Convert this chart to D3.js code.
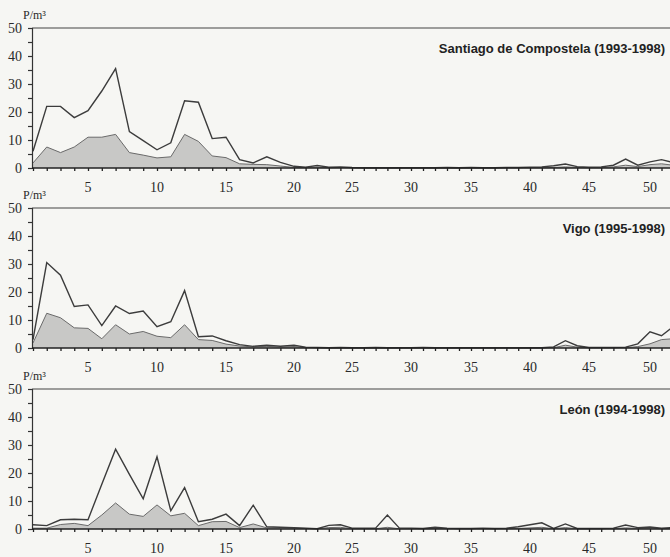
<!DOCTYPE html>
<html>
<head>
<meta charset="utf-8">
<script src="https://cdn.jsdelivr.net/npm/d3@7"></script>
<style>
    body { margin: 0; background: #f6f6f3; }
    .tick-label { font-family: "Liberation Serif", "DejaVu Serif", serif; font-size: 14px; fill: #2a2a2a; }
    .title { font-family: "Liberation Sans", Arial, sans-serif; font-size: 13px; font-weight: bold; fill: #222; }
</style>
</head>
<body>
<div class="container"></div>
<script>
// weeks 1..52
const weeks = d3.range(1, 53);

const santiagoMax = [6, 22, 22, 18, 20.5, 27.5, 35.5, 13, 9.8, 6.5, 9, 24, 23.5, 10.5, 11, 3, 1.8, 4, 2, 0.6,
    0.3, 0.9, 0.3, 0.4, 0.2, 0.1, 0.1, 0.1, 0.1, 0.1, 0.1, 0.1, 0.2, 0.1, 0.2, 0.1, 0.1, 0.2, 0.2, 0.3,
    0.4, 0.8, 1.4, 0.5, 0.3, 0.4, 1, 3.2, 1, 2.2, 3, 2];
const santiagoMean = [1.8, 7.5, 5.5, 7.5, 11, 11, 12, 5.5, 4.6, 3.6, 4, 12, 9.5, 4.3, 3.7, 1.5, 1.3, 1.2, 0.7, 0.2,
    0.2, 0.3, 0.1, 0.2, 0.1, 0, 0, 0, 0, 0, 0, 0, 0.1, 0, 0.1, 0, 0, 0.1, 0.1, 0.1,
    0.1, 0.2, 0.4, 0.2, 0.1, 0.1, 0.4, 1, 0.5, 1.2, 1.5, 1];

const vigoMax = [3, 30.5, 26, 14.8, 15.4, 8, 15, 12.3, 13.2, 7.6, 9.4, 20.5, 4, 4.3, 2.6, 1.2, 0.6, 1, 0.6, 1,
    0.3, 0.2, 0.1, 0.2, 0.1, 0.1, 0.2, 0.1, 0.1, 0.1, 0.2, 0.1, 0.1, 0.1, 0.1, 0.1, 0.1, 0.1, 0.1, 0.1,
    0.1, 0.4, 2.6, 0.8, 0.2, 0.2, 0.2, 0.3, 1.5, 5.8, 4.4, 7.6];
const vigoMean = [1.8, 12.4, 10.8, 7.2, 7, 3.3, 8.3, 5, 5.9, 4.2, 3.7, 8.3, 3, 2.7, 1.4, 0.7, 0.4, 0.6, 0.3, 0.5,
    0.1, 0.1, 0, 0.1, 0, 0, 0.1, 0, 0, 0, 0.1, 0, 0, 0, 0, 0, 0, 0, 0, 0,
    0, 0.1, 1, 0.3, 0.1, 0.1, 0.1, 0.1, 0.5, 1.5, 3, 3.3];

const leonMax = [1.5, 1.2, 3.3, 3.5, 3.3, 16, 28.5, 19.5, 10.8, 25.8, 6.5, 14.8, 2.6, 3.5, 5.3, 1.2, 8.5, 0.8, 0.6, 0.5,
    0.3, 0.1, 1.3, 1.5, 0.3, 0.3, 0.3, 5, 0.4, 0.3, 0.2, 0.6, 0.3, 0.2, 0.2, 0.3, 0.2, 0.3, 0.8, 1.5,
    2.2, 0.2, 1.8, 0.2, 0.2, 0.2, 0.3, 1.4, 0.5, 0.7, 0.3, 0.5];
const leonMean = [0.3, 0.3, 1.6, 2, 1.2, 5, 9.3, 5.3, 4.5, 8.6, 4.7, 5.6, 1.2, 2.6, 2.7, 0.5, 1.8, 0.4, 0.4, 0.3,
    0.2, 0.1, 0.5, 0.6, 0.1, 0.1, 0.1, 0.6, 0.1, 0.1, 0.1, 0.2, 0.1, 0.1, 0.1, 0.1, 0.1, 0.1, 0.2, 0.4,
    0.6, 0.1, 0.5, 0.1, 0.1, 0.1, 0.1, 0.4, 0.2, 0.3, 0.1, 0.2];

const panels = [
    { title: 'Santiago de Compostela (1993-1998)', max: santiagoMax, mean: santiagoMean, top: 28 },
    { title: 'Vigo (1995-1998)', max: vigoMax, mean: vigoMean, top: 208 },
    { title: 'León (1994-1998)', max: leonMax, mean: leonMean, top: 389 }
];

const yTicks = [0, 5, 10, 15, 20, 25, 30, 35, 40, 45, 50];
const yLabels = [0, 10, 20, 30, 40, 50];
const xLabels = [5, 10, 15, 20, 25, 30, 35, 40, 45, 50];

const width = 670;
const height = 557;
const plotHeight = 140;
const left = 32;

const svg = d3.select('.container').append('svg').attr('width', width).attr('height', height);

// the scanned figure is stretched a bit on the left, so the week axis is polylinear
const x = d3.scaleLinear()
    .domain([1, 5, 10, 15, 20, 25, 30, 35, 40, 45, 50, 52])
    .range([33, 88, 157, 226, 294, 352, 411, 471, 530, 589, 650, 673]);

panels.forEach(p =>
{
    const y = d3.scaleLinear().domain([0, 50]).range([p.top + plotHeight, p.top]);
    const g = svg.append('g');

    const area = d3.area().x((d, i) => x(weeks[i])).y0(y(0)).y1(d => y(d));
    const line = d3.line().x((d, i) => x(weeks[i])).y(d => y(d));

    g.append('path').attr('d', area(p.mean)).attr('fill', '#c8c8c6');
    g.append('path').attr('d', line(p.mean)).attr('fill', 'none').attr('stroke', '#6a6a6a').attr('stroke-width', 1);
    g.append('path').attr('d', line(p.max)).attr('fill', 'none').attr('stroke', '#3c3c3c').attr('stroke-width', 1.4);

    // frame: top line, left axis, bottom axis
    g.append('line').attr('x1', left).attr('x2', width).attr('y1', y(50)).attr('y2', y(50))
        .attr('stroke', '#444').attr('stroke-width', 1.2);

    const yAxis = d3.axisLeft(y).tickValues(yTicks).tickSize(4).tickFormat('');
    g.append('g').attr('transform', `translate(${left},0)`).call(yAxis)
        .call(a => a.selectAll('line, path').attr('stroke', '#333').attr('stroke-width', 1.2));

    const xAxis = d3.axisBottom(x).tickValues(weeks).tickSize(3).tickSizeOuter(0).tickFormat('');
    g.append('g').attr('transform', `translate(0,${y(0)})`).call(xAxis)
        .call(a => a.select('.domain').attr('d', `M${left},0H${width}`))
        .call(a => a.selectAll('line, path').attr('stroke', '#222').attr('stroke-width', 1.3));

    g.selectAll('.ylab').data(yLabels).enter().append('text')
        .attr('class', 'tick-label')
        .attr('x', 22).attr('y', d => y(d) + 5)
        .attr('text-anchor', 'end')
        .text(d => d);

    g.selectAll('.xlab').data(xLabels).enter().append('text')
        .attr('class', 'tick-label')
        .attr('x', d => x(d)).attr('y', y(0) + 24)
        .attr('text-anchor', 'middle')
        .text(d => d);

    g.append('text').attr('class', 'tick-label').style('font-size', '12px')
        .attr('x', 23).attr('y', p.top - 9).text('P/m³');

    g.append('text').attr('class', 'title')
        .attr('x', 665).attr('y', p.top + 25)
        .attr('text-anchor', 'end')
        .text(p.title);
});
</script>
</body>
</html>
